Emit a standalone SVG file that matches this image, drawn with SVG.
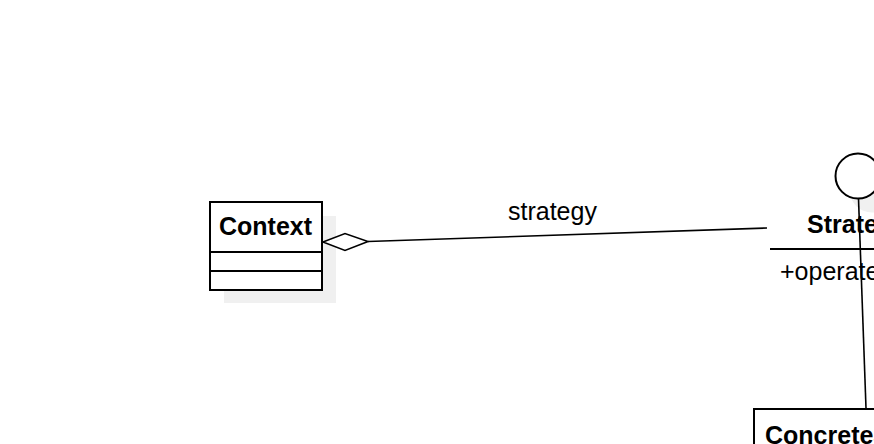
<svg xmlns="http://www.w3.org/2000/svg" width="874" height="444" viewBox="0 0 874 444">
  <style>
    .box { fill: #ffffff; stroke: #000000; stroke-width: 2; }
    .shadow { fill: #f0f0f0; stroke: none; }
    .sep { stroke: #000000; stroke-width: 2; }
    .conn { stroke: #000000; stroke-width: 1.6; fill: none; }
    .title { font-family: "Liberation Sans", Arial, sans-serif; font-size: 25px; font-weight: bold; fill: #000000; }
    .txt { font-family: "Liberation Sans", Arial, sans-serif; font-size: 25px; fill: #000000; }
  </style>
  <rect width="874" height="444" fill="#ffffff"/>

  <g id="context">
    <rect class="shadow" x="224" y="216" width="112" height="87"/>
    <rect class="box" x="210" y="202" width="112" height="88"/>
    <line class="sep" x1="210" y1="252" x2="322" y2="252"/>
    <line class="sep" x1="210" y1="271" x2="322" y2="271"/>
    <text class="title" x="219" y="235">Context</text>
  </g>

  <g id="strategy">
    <circle class="shadow" cx="872" cy="190" r="22.5"/>
    <circle class="box" cx="858" cy="176" r="22.5"/>
    <line class="sep" x1="770" y1="249" x2="874" y2="249"/>
    <text class="title" x="807" y="233">Strategy</text>
    <text class="txt" x="780" y="280">+operate()</text>
  </g>

  <g id="concrete">
    <rect class="box" x="754" y="409" width="200" height="80"/>
    <text class="title" x="765" y="444">ConcreteStrategy</text>
  </g>

  <g id="connectors">
    <line class="conn" x1="368" y1="241.5" x2="767" y2="228"/>
    <polygon class="conn" points="323,242 345,233.5 368,241.5 345,250.5" style="fill:#ffffff"/>
    <text class="txt" x="508" y="220">strategy</text>
    <line class="conn" x1="858.5" y1="198.5" x2="866" y2="408"/>
  </g>
</svg>
